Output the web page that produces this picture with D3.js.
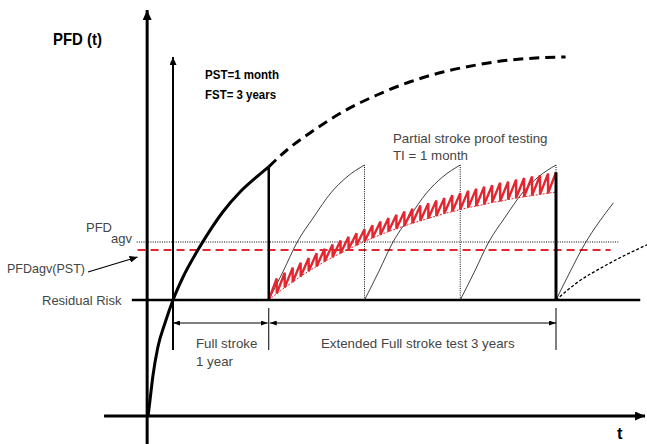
<!DOCTYPE html>
<html>
<head>
<meta charset="utf-8">
<script src="https://cdn.jsdelivr.net/npm/d3@7"></script>
<style>
  body { margin: 0; background: #fff; }
  svg { display: block; }
  text { font-family: "Liberation Sans", Arial, Helvetica, sans-serif; }
</style>
</head>
<body>
<svg width="647" height="444"></svg>
<script>
// times in years, PFD in arbitrary units (0..100)
const fullTests = [1, 2, 3, 4];
const residualRisk = 29;
const pfdAvg = 43.5;
const pfdAvgPst = 41.5;

// PFD(t) with no test at all
const pfdSolid = [[-0.26, 0], [-0.24, 4], [-0.21, 10], [-0.16, 17], [-0.08, 23.5], [0, 29],
  [0.1, 34.5], [0.26, 41.5], [0.36, 45.4], [0.52, 51], [0.7, 56], [0.88, 59.9], [1.0, 62.3]];
const pfdDashed = [[1.0, 62.3], [1.19, 66.5], [1.43, 70.75], [1.77, 76], [2.13, 80.25],
  [2.47, 83.5], [2.82, 86], [3.17, 87.75], [3.52, 89], [4.1, 89.75]];

// rise after each full stroke test (years since test, PFD above residual)
const testRise = [[0, 0], [0.157, 7.5], [0.292, 14.25], [0.47, 20.75], [0.648, 26.75], [0.815, 30.75], [1, 33.75]];
const lastRise = [[0, 0], [0.15, 7.2], [0.3, 14], [0.45, 19.5], [0.6, 24.3]];
const afterTest = [[4, 29], [4.2, 33], [4.53, 37.8], [4.95, 42.8]];

// partial stroke test, monthly: value after each test and just before the next one
const pstLow = [29.0, 30.6, 32.1, 33.5, 34.9, 36.2, 37.4, 38.6, 39.7, 40.7, 41.7, 42.7,
  43.6, 44.5, 45.3, 46.1, 46.8, 47.5, 48.2, 48.8, 49.4, 50.0, 50.6, 51.1,
  51.6, 52.1, 52.5, 52.9, 53.4, 53.7, 54.1, 54.5, 54.8, 55.1, 55.4, 55.7, 56.0];
const pstHigh = [34.4, 35.8, 37.1, 38.3, 39.5, 40.7, 41.8, 42.9, 43.9, 44.8, 45.7, 46.7,
  47.7, 48.6, 49.5, 50.3, 51.1, 51.8, 52.6, 53.2, 53.9, 54.5, 55.2, 55.7,
  56.3, 56.8, 57.3, 57.7, 58.3, 58.6, 59.1, 59.5, 59.9, 60.2, 60.6, 60.9];

const x = d3.scaleLinear().domain([0, 4]).range([173, 556]);
const y = d3.scaleLinear().domain([0, 100]).range([416, 16]);

const svg = d3.select('svg');
const defs = svg.append('defs');

function marker(id, w, h) {
  defs.append('marker')
    .attr('id', id)
    .attr('viewBox', `0 ${-h / 2} ${w} ${h}`)
    .attr('refX', w).attr('refY', 0)
    .attr('markerWidth', w).attr('markerHeight', h)
    .attr('markerUnits', 'userSpaceOnUse')
    .attr('orient', 'auto-start-reverse')
    .append('path')
    .attr('d', `M0,${-h / 2}L${w},0L0,${h / 2}Z`)
    .attr('fill', '#000');
}
marker('big', 10, 9);
marker('mid', 8, 7);
marker('small', 7, 5);

const line = d3.line().x(d => x(d[0])).y(d => y(d[1]));
const smooth = d3.line().x(d => x(d[0])).y(d => y(d[1])).curve(d3.curveMonotoneX);

function hline(v, t0, t1) {
  return svg.append('line')
    .attr('x1', x(t0)).attr('x2', x(t1))
    .attr('y1', y(v)).attr('y2', y(v));
}
function vline(t, v0, v1) {
  return svg.append('line')
    .attr('x1', x(t)).attr('x2', x(t))
    .attr('y1', y(v0)).attr('y2', y(v1));
}

// average lines
hline(pfdAvg, -0.38, 4.65).attr('stroke', '#000').attr('stroke-width', 1).attr('stroke-dasharray', '1,1.3');
hline(pfdAvgPst, -0.37, 4.57).attr('stroke', '#e3262f').attr('stroke-width', 2).attr('stroke-dasharray', '8,5');

// thin curves after full stroke tests
fullTests.forEach(t0 => {
  const pts = (t0 === 4 ? lastRise : testRise).map(d => [t0 + d[0], residualRisk + d[1]]);
  svg.append('path').attr('d', smooth(pts))
    .attr('fill', 'none').attr('stroke', '#111').attr('stroke-width', 0.8);
});
[2, 3, 4].forEach(t => {
  vline(t, residualRisk, residualRisk + testRise[testRise.length - 1][1])
    .attr('stroke', '#111').attr('stroke-width', 1).attr('stroke-dasharray', '1,1.2');
});
svg.append('path').attr('d', smooth(afterTest))
  .attr('fill', 'none').attr('stroke', '#000').attr('stroke-width', 1.3).attr('stroke-dasharray', '3,2');

// partial stroke sawtooth
svg.append('path')
  .attr('d', smooth(pstLow.map((v, i) => [1 + i / 12, v])))
  .attr('fill', 'none').attr('stroke', '#e3262f').attr('stroke-width', 1).attr('stroke-dasharray', '2,1.5');
const teeth = [];
pstHigh.forEach((v, i) => {
  teeth.push([1 + i / 12, pstLow[i]]);
  teeth.push([1 + (i + 1) / 12, v]);
});
svg.append('path').attr('d', line(teeth))
  .attr('fill', 'none').attr('stroke', '#e3262f').attr('stroke-width', 2.4);

// PFD(t) curve
svg.append('path').attr('d', smooth(pfdSolid))
  .attr('fill', 'none').attr('stroke', '#000').attr('stroke-width', 3);
svg.append('path').attr('d', smooth(pfdDashed))
  .attr('fill', 'none').attr('stroke', '#000').attr('stroke-width', 3).attr('stroke-dasharray', '10,6');

// test verticals
vline(1, residualRisk, pfdSolid[pfdSolid.length - 1][1]).attr('stroke', '#000').attr('stroke-width', 2.5);
vline(4, residualRisk, pstHigh[pstHigh.length - 1]).attr('stroke', '#000').attr('stroke-width', 3);

// residual risk
hline(residualRisk, -0.43, 4.88).attr('stroke', '#000').attr('stroke-width', 2.5);

// axes
svg.append('line').attr('x1', x(-0.72)).attr('x2', x(4.93)).attr('y1', y(0)).attr('y2', y(0))
  .attr('stroke', '#000').attr('stroke-width', 3).attr('marker-end', 'url(#big)');
svg.append('line').attr('x1', x(-0.27)).attr('x2', x(-0.27)).attr('y1', y(-7)).attr('y2', y(101.5))
  .attr('stroke', '#000').attr('stroke-width', 3).attr('marker-end', 'url(#big)');
svg.append('line').attr('x1', x(0)).attr('x2', x(0)).attr('y1', y(16.5)).attr('y2', y(89.75))
  .attr('stroke', '#000').attr('stroke-width', 2).attr('marker-end', 'url(#mid)');

// dimension lines
const dimY = 23.25;
[1, 4].forEach(t => vline(t, 16.5, 27).attr('stroke', '#000').attr('stroke-width', 1));
svg.append('line').attr('x1', x(0)).attr('x2', x(1) - 1).attr('y1', y(dimY)).attr('y2', y(dimY))
  .attr('stroke', '#000').attr('stroke-width', 1)
  .attr('marker-start', 'url(#small)').attr('marker-end', 'url(#small)');
svg.append('line').attr('x1', x(1) + 1).attr('x2', x(4)).attr('y1', y(dimY)).attr('y2', y(dimY))
  .attr('stroke', '#000').attr('stroke-width', 1)
  .attr('marker-start', 'url(#small)').attr('marker-end', 'url(#small)');

// pointer to PFDavg(PST)
svg.append('line').attr('x1', 88).attr('y1', 272).attr('x2', x(-0.37)).attr('y2', 257)
  .attr('stroke', '#000').attr('stroke-width', 1.2).attr('marker-end', 'url(#mid)');

// labels
function label(txt, px, py, opt = {}) {
  const t = svg.append('text').attr('x', px).attr('y', py).text(txt)
    .attr('font-size', opt.size || 13.3)
    .attr('fill', opt.fill || '#454545')
    .attr('text-anchor', opt.anchor || 'start');
  if (opt.bold) t.attr('font-weight', 'bold');
  if (opt.len) t.attr('textLength', opt.len).attr('lengthAdjust', 'spacingAndGlyphs');
  return t;
}
label('PFD (t)', 53, 45, { size: 16.5, bold: true, fill: '#000', len: 49 });
label('PST=1 month', 205, 79, { size: 13.3, bold: true, fill: '#000', len: 74 });
label('FST= 3 years', 205, 99, { size: 13.3, bold: true, fill: '#000', len: 71 });
label('Partial stroke proof testing', 393, 143);
label('TI = 1 month', 393, 160);
label('PFD', 112, 232, { size: 13, anchor: 'end' });
label('agv', 111, 243, { size: 13 });
label('PFDagv(PST)', 7, 273, { size: 13, len: 78 });
label('Residual Risk', 42, 305, { size: 13 });
label('Full stroke', 196, 348);
label('1 year', 196, 366);
label('Extended Full stroke test 3 years', 321, 348);
label('t', 617, 439, { size: 16.5, bold: true, fill: '#000' });
</script>
</body>
</html>
